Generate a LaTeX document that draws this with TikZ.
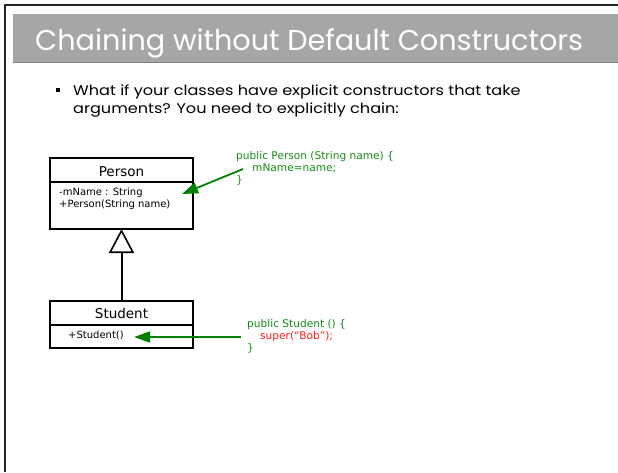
\documentclass[tikz,border=0pt]{standalone}
\usepackage{fontspec}
\setmainfont{DejaVu Sans}
\newfontfamily\slidefont{Poppins}
\newfontfamily\bodyfont[FakeStretch=1.15]{Poppins}
\usetikzlibrary{arrows.meta}
\definecolor{titlegray}{RGB}{166,166,166}
\definecolor{titleedge}{RGB}{130,130,130}
\definecolor{codegreen}{RGB}{20,140,20}
\definecolor{codered}{RGB}{255,30,30}
\definecolor{arrowgreen}{RGB}{0,128,0}
\tikzset{
  classbox/.style={draw=black, line width=2pt},
  classname/.style={font=\fontsize{13.5}{15}\selectfont, anchor=base, inner sep=0pt},
  member/.style={font=\fontsize{10}{11.5}\selectfont, anchor=base west, inner sep=0pt},
  code/.style={font=\fontsize{10.6}{12}\selectfont, anchor=base west, inner sep=0pt, text=codegreen},
  note/.style={draw=arrowgreen, line width=1.8pt, -{Triangle[length=16pt,width=11pt]}},
  inherit/.style={draw=black, line width=2pt, -{Triangle[open, length=24pt, width=25pt, line width=1.6pt]}},
}
\begin{document}
\begin{tikzpicture}[x=1pt, y=-1pt]
\useasboundingbox (0,0) rectangle (618,472);
% slide frame
\draw[line width=1.4pt, black!85] (618,5) -- (5,5) -- (5,472);
% title bar
\fill[titlegray] (13,14) rectangle (618,62);
\draw[titleedge, line width=1pt] (13,62) -- (618,62);
\node[anchor=base west, inner sep=0pt, text=white, font=\slidefont\fontsize{28.7}{30}\selectfont] (title) at (35,50) {Chaining without Default Constructors};
% bullet text
\fill[black] (56,87.5) rectangle (60,91.5);
\node[anchor=base west, inner sep=0pt, font=\bodyfont\fontsize{14}{18}\selectfont] (body1) at (73,95)
  {What if your classes have explicit constructors that take};
\node[anchor=base west, inner sep=0pt, font=\bodyfont\fontsize{14}{18}\selectfont] (body2) at (73,113)
  {arguments? You need to explicitly chain:};
% Person class
\draw[classbox] (50,158) rectangle (193,229);
\draw[classbox] (50,182) -- (193,182);
\node[classname] (pname) at (121.5,176.5) {Person};
\node[member] (pattr) at (59,195.5) {-mName : String};
\node[member] (pop) at (59,207) {+Person(String name)};
% Student class
\draw[classbox] (50,301) rectangle (193,348);
\draw[classbox] (50,325) -- (193,325);
\node[classname] (sname) at (121.5,318.5) {Student};
\node[member] (sop) at (68,338) {+Student()};
% generalisation
\coordinate (stop) at (121.5,301);
\coordinate (pbottom) at (121.5,229);
\draw[inherit] (stop) -- (pbottom);
% code notes
\node[code] (pcode1) at (236,159) {public Person (String name) \{};
\node[code] (pcode2) at (252,171) {mName=name;};
\node[code] (pcode3) at (236,183) {\}};
\node[code] (scode1) at (247,327) {public Student () \{};
\node[code, text=codered] (scode2) at (260,339) {super(“Bob”);};
\node[code] (scode3) at (247,351) {\}};
% pointers
\coordinate (ptail) at (243,169);
\coordinate (ptip) at (182,194);
\draw[note] (ptail) -- (ptip);
\coordinate (stail) at (241,337);
\coordinate (stip) at (134,337);
\draw[note] (stail) -- (stip);
\end{tikzpicture}
\end{document}
